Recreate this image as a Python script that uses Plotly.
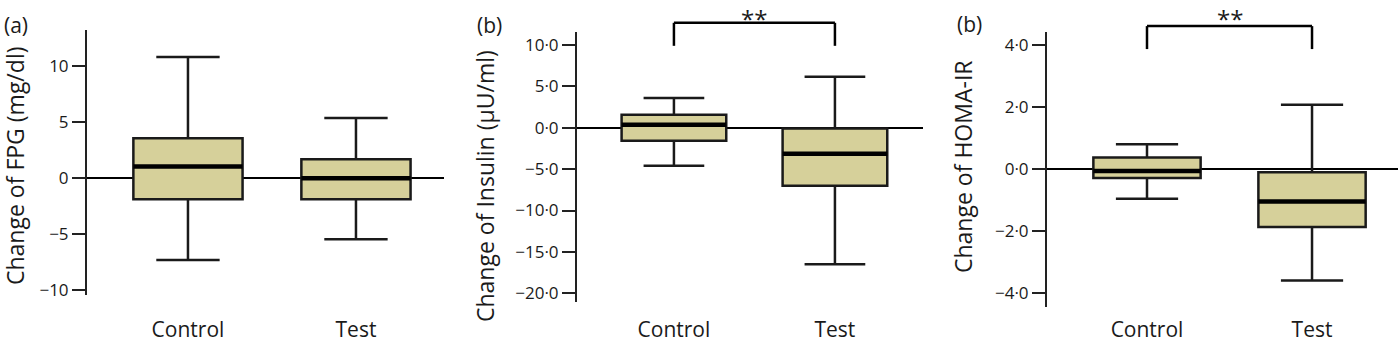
import plotly.graph_objects as go

# ---------------- data ----------------
groups = ["Control", "Test"]
group_pos = [0, 1]

# (a) Change of FPG (mg/dl)
fpg_low = [-7.3, -5.45]
fpg_q1 = [-1.88, -1.88]
fpg_med = [1.05, 0.0]
fpg_q3 = [3.57, 1.7]
fpg_high = [10.8, 5.36]

# (b) Change of Insulin (µU/ml)
ins_low = [-4.6, -16.5]
ins_q1 = [-1.57, -7.0]
ins_med = [0.36, -3.14]
ins_q3 = [1.57, -0.1]
ins_high = [3.6, 6.16]

# (b) Change of HOMA-IR
homa_low = [-0.95, -3.59]
homa_q1 = [-0.28, -1.86]
homa_med = [-0.06, -1.04]
homa_q3 = [0.38, -0.1]
homa_high = [0.8, 2.08]

fpg_ticks = [-10, -5, 0, 5, 10]
fpg_ticktext = ["−10", "−5", "0", "5", "10"]
ins_ticks = [-20, -15, -10, -5, 0, 5, 10]
ins_ticktext = ["−20·0", "−15·0", "−10·0", "−5·0", "0·0", "5·0", "10·0"]
homa_ticks = [-4, -2, 0, 2, 4]
homa_ticktext = ["−4·0", "−2·0", "0·0", "2·0", "4·0"]

# significance brackets (bracket top, leg end) in data units
ins_bracket = [12.68, 9.9]
homa_bracket = [4.61, 3.87]
sig_label = "**"

panel_labels = ["(a)", "(b)", "(b)"]
titles = ["Change of FPG (mg/dl)", "Change of Insulin (µU/ml)", "Change of HOMA-IR"]

# ---------------- style ----------------
W, H = 1400, 339
FONT = "Open Sans"
TXT = "#1a1a1a"
FILL = "#d6d09a"
BOXW = 0.65

yranges = [[-10.41, 13.21], [-21.05, 11.57], [-4.44, 4.42]]
xranges = [[-0.601, 1.524], [-0.602, 1.547], [-0.606, 1.521]]
xdoms = [[87 / W, 444 / W], [577 / W, 923 / W], [1047 / W, 1398 / W]]
ydoms = [[1 - 295 / H, 1 - 30 / H], [1 - 302 / H, 1 - 32 / H], [1 - 307 / H, 1 - 32 / H]]
xticklen = [16, 9, 4]

panels = [
    (fpg_low, fpg_q1, fpg_med, fpg_q3, fpg_high, fpg_ticks, fpg_ticktext),
    (ins_low, ins_q1, ins_med, ins_q3, ins_high, ins_ticks, ins_ticktext),
    (homa_low, homa_q1, homa_med, homa_q3, homa_high, homa_ticks, homa_ticktext),
]

fig = go.Figure()
layout = dict(
    width=W, height=H, margin=dict(l=0, r=0, t=0, b=0, autoexpand=False),
    paper_bgcolor="white", plot_bgcolor="white", showlegend=False,
    font=dict(family=FONT, color=TXT),
)
annotations = []
shapes = []

for i, (lo, q1, med, q3, hi, tv, tt) in enumerate(panels):
    sfx = "" if i == 0 else str(i + 1)
    xname, yname = "x" + sfx, "y" + sfx
    fig.add_trace(go.Box(
        x=group_pos, q1=q1, median=med, q3=q3, lowerfence=lo, upperfence=hi,
        width=BOXW, whiskerwidth=0.58, fillcolor=FILL,
        line=dict(color="#1a1a1a", width=2.5), boxpoints=False,
        xaxis=xname, yaxis=yname, hoverinfo="skip",
    ))
    # thicker median lines
    mx, my = [], []
    for p, m in zip(group_pos, med):
        mx += [p - BOXW / 2, p + BOXW / 2, None]
        my += [m, m, None]
    fig.add_trace(go.Scatter(x=mx, y=my, mode="lines", line=dict(color="black", width=4.5),
                             xaxis=xname, yaxis=yname, hoverinfo="skip"))

    layout["xaxis" + sfx] = dict(
        domain=xdoms[i], range=xranges[i], anchor=yname, automargin=False,
        tickvals=group_pos, ticktext=groups, ticks="outside", ticklen=xticklen[i],
        tickcolor="rgba(0,0,0,0)", showline=False, showgrid=False, zeroline=False,
        tickfont=dict(size=21, family=FONT, color=TXT),
    )
    layout["yaxis" + sfx] = dict(
        domain=ydoms[i], range=yranges[i], anchor=xname, automargin=False,
        tickvals=tv, ticktext=tt, ticks="outside", ticklen=13, tickwidth=2,
        tickcolor="#222", showline=True, linecolor="#222", linewidth=2,
        showgrid=False, zeroline=True, zerolinecolor="black", zerolinewidth=2,
        tickfont=dict(size=17, family=FONT, color=TXT),
    )

# y titles and panel labels
title_pos = [(15, 166), (485, 186), (963, 167)]
for t, (px, py) in zip(titles, title_pos):
    annotations.append(dict(text=t, x=px / W, y=1 - py / H, xref="paper", yref="paper",
                            xanchor="center", yanchor="middle", textangle=-90, showarrow=False,
                            font=dict(size=23, family=FONT, color=TXT)))
label_pos = [(16, 25), (490, 25), (969, 24)]
for t, (px, py) in zip(panel_labels, label_pos):
    annotations.append(dict(text=t, x=px / W, y=1 - py / H, xref="paper", yref="paper",
                            xanchor="center", yanchor="middle", showarrow=False,
                            font=dict(size=21, family=FONT, color=TXT)))

# significance brackets
for sfx, br, yr in [("2", ins_bracket, yranges[1]), ("3", homa_bracket, yranges[2])]:
    top = (br[0] - yr[0]) / (yr[1] - yr[0])
    leg = (br[1] - yr[0]) / (yr[1] - yr[0])
    common = dict(type="line", xref="x" + sfx, yref="y" + sfx + " domain",
                  line=dict(color="black", width=2.5))
    shapes.append(dict(x0=group_pos[0], x1=group_pos[1], y0=top, y1=top, **common))
    shapes.append(dict(x0=group_pos[0], x1=group_pos[0], y0=top, y1=leg, **common))
    shapes.append(dict(x0=group_pos[1], x1=group_pos[1], y0=top, y1=leg, **common))
    annotations.append(dict(text=sig_label, x=sum(group_pos) / 2, y=1,
                            xref="x" + sfx, yref="paper",
                            xanchor="center", yanchor="top", showarrow=False,
                            font=dict(size=24, family=FONT, color=TXT)))

layout["annotations"] = annotations
layout["shapes"] = shapes
fig.update_layout(**layout)
fig.write_html("out.html", config={"displayModeBar": False},
               post_script="document.body.style.margin='0';document.body.style.overflow='hidden';")
